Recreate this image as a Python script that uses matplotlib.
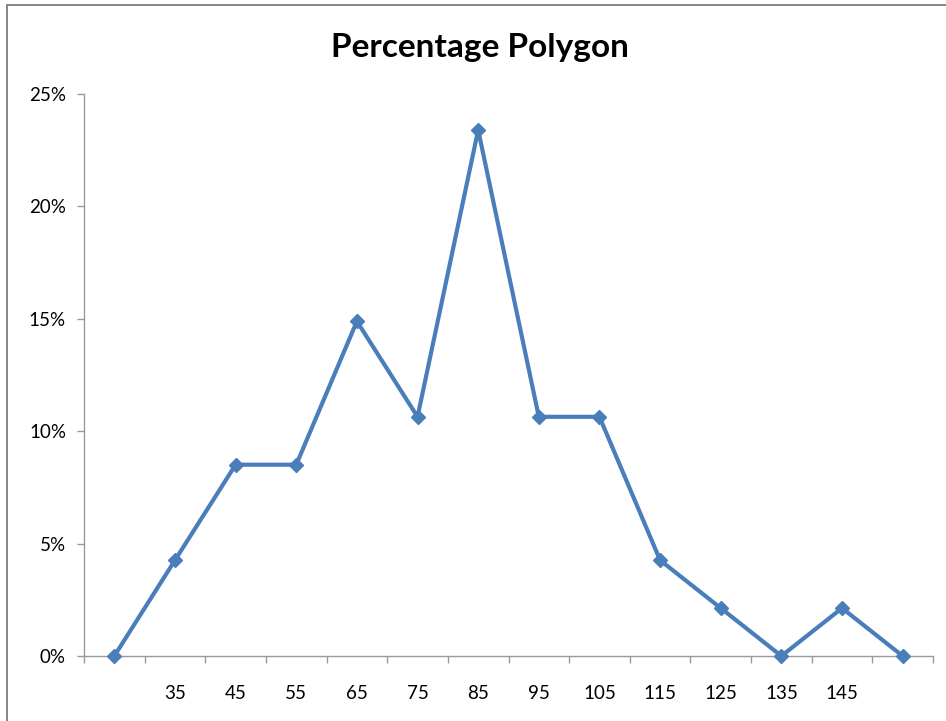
import matplotlib.pyplot as plt
from matplotlib.lines import Line2D
from matplotlib.ticker import PercentFormatter

# class midpoints (blank ends close the polygon) and percentages
categories = ["", "35", "45", "55", "65", "75", "85", "95", "105", "115", "125", "135", "145", ""]
percent = [0.0, 4.26, 8.51, 8.51, 14.89, 10.64, 23.40, 10.64, 10.64, 4.26, 2.13, 0.0, 2.13, 0.0]

plt.rcParams['font.family'] = ['Lato', 'DejaVu Sans']

fig = plt.figure(figsize=(9.46, 7.21), dpi=100)
ax = fig.add_axes([84/946, 1-656/721, (933-84)/946, (656-94)/721])

x = range(len(categories))
ax.plot(x, [p/100 for p in percent], color='#4A7EBB', lw=3.0,
        marker='D', ms=7.5, mfc='#4A7EBB', mec='#4A7EBB', clip_on=False, zorder=5)

ax.set_xlim(-0.5, len(categories) - 0.5)
ax.set_ylim(0, 0.25)
ax.set_yticks([0, 0.05, 0.10, 0.15, 0.20, 0.25])
ax.yaxis.set_major_formatter(PercentFormatter(1.0, decimals=0))
ax.set_xticks(list(x))
ax.set_xticklabels(categories)
ax.set_xticks([i - 0.5 for i in range(len(categories) + 1)], minor=True)

axis_col = '#9A9A9A'
for s in ['top', 'right']:
    ax.spines[s].set_visible(False)
for s in ['left', 'bottom']:
    ax.spines[s].set_color(axis_col)
    ax.spines[s].set_linewidth(1.0)

ax.tick_params(axis='x', which='major', length=0, pad=21, labelsize=13.5, colors='black')
ax.tick_params(axis='x', which='minor', length=5, width=1, color=axis_col, direction='out')
ax.tick_params(axis='y', length=5, width=1, color=axis_col, labelsize=13.5, pad=8, labelcolor='black')

fig.text(480/946, 1-47/721, "Percentage Polygon", ha='center', va='center',
         fontsize=24, fontweight='bold')

# chart border (only top and left visible in the crop)
fig.add_artist(Line2D([7/946, 7/946], [0, 1-5/721], transform=fig.transFigure, color='#858585', lw=1.4))
fig.add_artist(Line2D([7/946, 1], [1-5/721, 1-5/721], transform=fig.transFigure, color='#858585', lw=1.4))

fig.savefig('out.png', dpi=100)
